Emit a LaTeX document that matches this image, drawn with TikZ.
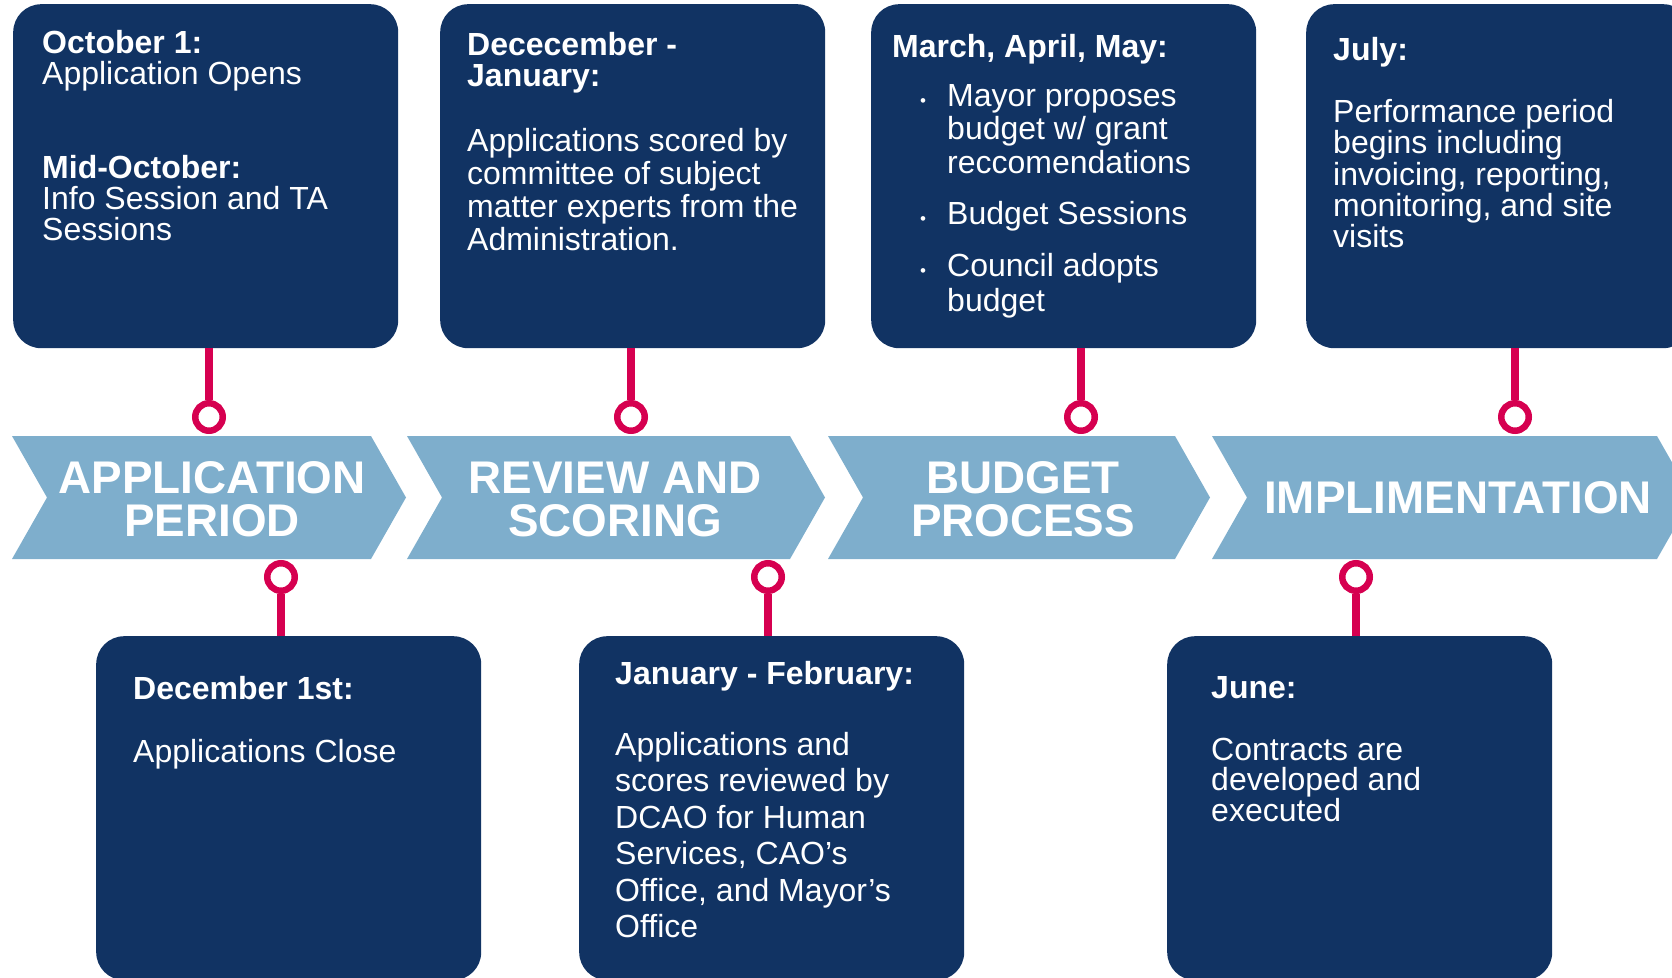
\documentclass[tikz,border=0pt]{standalone}
\usepackage{fontspec}
\setmainfont{Liberation Sans}
\definecolor{boxnavy}{RGB}{17,51,99}
\definecolor{phaseblue}{RGB}{126,174,204}
\definecolor{pinkred}{RGB}{214,0,80}

\begin{document}
\begin{tikzpicture}[x=1pt, y=-1pt,
  navybox/.style={fill=boxnavy, rounded corners=28pt, minimum width=385pt, minimum height=344pt, inner sep=0pt, anchor=north west},
  boxtext/.style={text=white, anchor=north west, inner sep=0pt, align=left, font=\fontsize{32}{#1}\selectfont},
  boxtext/.default=31,
  phase/.style={text=white, align=center, font=\fontsize{45.8}{43}\selectfont\bfseries},
  ring/.style={circle, draw=pinkred, line width=6.5pt, fill=white, minimum size=27.5pt, inner sep=0pt},
  stem/.style={draw=pinkred, line width=8pt}]

% Cadre
\useasboundingbox (0,0) rectangle (1672,977);
\clip (0,0) rectangle (1672,977);

% Boites du haut
\node[navybox] (oct) at (13,4) {};
\node[navybox] (dec) at (440,4) {};
\node[navybox] (mar) at (871,4) {};
\node[navybox] (jul) at (1306,4) {};

% Boites du bas
\node[navybox] (close) at (96,636) {};
\node[navybox] (jan) at (579,636) {};
\node[navybox] (jun) at (1167,636) {};

% Fleches des phases
\foreach \l/\r in {12/371, 407/790, 828/1175, 1212/1657}
  \fill[phaseblue] (\l,436) -- (\r,436) -- (\r+35,497.5) -- (\r,559) -- (\l,559) -- (\l+35,497.5) -- cycle;

\node[phase] (p-app) at (212,499) {APPLICATION\\PERIOD};
\node[phase] (p-rev) at (615,499) {REVIEW AND\\SCORING};
\node[phase] (p-bud) at (1023,499) {BUDGET\\PROCESS};
\node[phase] (p-imp) at (1458,498) {IMPLIMENTATION};

% Anneaux
\node[ring] (r-oct) at (209,417) {};
\node[ring] (r-dec) at (631,417) {};
\node[ring] (r-mar) at (1081,417) {};
\node[ring] (r-jul) at (1515,417) {};
\node[ring] (r-close) at (281,577) {};
\node[ring] (r-jan) at (768,577) {};
\node[ring] (r-jun) at (1356,577) {};

% Tiges
\draw[stem] (r-oct.north) -- (r-oct.north |- oct.south);
\draw[stem] (r-dec.north) -- (r-dec.north |- dec.south);
\draw[stem] (r-mar.north) -- (r-mar.north |- mar.south);
\draw[stem] (r-jul.north) -- (r-jul.north |- jul.south);
\draw[stem] (r-close.south) -- (r-close.south |- close.north);
\draw[stem] (r-jan.south) -- (r-jan.south |- jan.north);
\draw[stem] (r-jun.south) -- (r-jun.south |- jun.north);

% Textes du haut
\node[boxtext] (t-oct) at (42,30) {\textbf{October 1:}\\Application Opens\\[63pt]\textbf{Mid-October:}\\Info Session and TA\\Sessions};
\node[boxtext=33] (t-dec) at (467,32) {\textbf{Dececember -}\\[-2pt]\textbf{January:}\\[32pt]Applications scored by\\committee of subject\\matter experts from the\\Administration.};
\node[boxtext=33.5] (t-mar) at (892,34) {\textbf{March, April, May:}\\[15.5pt]
  \makebox[55pt][l]{\hspace{28pt}{\fontsize{17}{17}\selectfont\textbullet}}Mayor proposes\\
  \hspace*{55pt}budget w/ grant\\
  \hspace*{55pt}reccomendations\\[17.5pt]
  \makebox[55pt][l]{\hspace{28pt}{\fontsize{17}{17}\selectfont\textbullet}}Budget Sessions\\[18.5pt]
  \makebox[55pt][l]{\hspace{28pt}{\fontsize{17}{17}\selectfont\textbullet}}Council adopts\\[1.5pt]
  \hspace*{55pt}budget};
\node[boxtext=31.3] (t-jul) at (1333,37) {\textbf{July:}\\[31pt]Performance period\\begins including\\invoicing, reporting,\\monitoring, and site\\visits};

% Textes du bas
\node[boxtext] (t-close) at (133,676) {\textbf{December 1st:}\\[32pt]Applications Close};
\node[boxtext=36.4] (t-jan) at (615,661) {\textbf{January - February:}\\[34.6pt]Applications and\\scores reviewed by\\DCAO for Human\\Services, CAO’s\\Office, and Mayor’s\\Office};
\node[boxtext=30.7] (t-jun) at (1211,676) {\textbf{June:}\\[31.3pt]Contracts are\\developed and\\executed};

\end{tikzpicture}
\end{document}
